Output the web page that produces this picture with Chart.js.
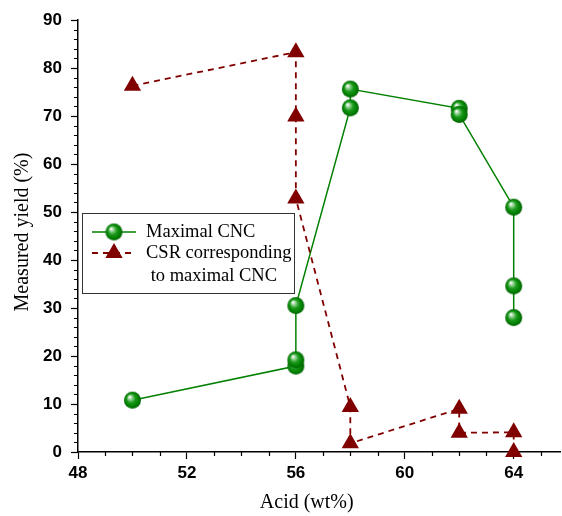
<!DOCTYPE html>
<html>
<head>
<meta charset="utf-8">
<script src="https://cdn.jsdelivr.net/npm/chart.js@4.4.1/dist/chart.umd.min.js"></script>
<style>
  html, body { margin: 0; padding: 0; background: #ffffff; }
  #wrap { width: 562px; height: 516px; }
</style>
</head>
<body>
<div id="wrap"><canvas id="c" width="562" height="516"></canvas></div>
<script>
// ---- data ----
const acidCNC  = [50, 56, 56, 56, 58, 58, 62, 62, 64, 64, 64];
const yieldCNC = [10.8, 17.9, 19.2, 30.5, 71.7, 75.6, 71.6, 70.3, 51.0, 34.6, 28.0];
const acidCSR  = [50, 56, 56, 56, 58, 58, 62, 62, 64, 64];
const yieldCSR = [76.3, 83.3, 69.9, 52.8, 9.4, 1.8, 9.0, 4.0, 4.1, 0.0];
const xTicks = [48, 52, 56, 60, 64];
const yTicks = [0, 10, 20, 30, 40, 50, 60, 70, 80, 90];
const labelCNC = 'Maximal CNC';
const labelCSR = ['CSR corresponding', ' to maximal CNC'];
const xTitle = 'Acid (wt%)';
const yTitle = 'Measured yield (%)';

const GREEN = '#008000';
const RED = '#800000';

// sphere marker image
function makeSphere(r) {
  const c = document.createElement('canvas');
  c.width = c.height = Math.ceil(r * 2 + 2);
  const g = c.getContext('2d');
  const cx = c.width / 2, cy = c.height / 2;
  const grad = g.createRadialGradient(cx - r * 0.35, cy - r * 0.4, r * 0.05, cx, cy, r);
  grad.addColorStop(0, '#ffffff');
  grad.addColorStop(0.22, '#8fd08f');
  grad.addColorStop(0.5, '#1a9a1a');
  grad.addColorStop(0.85, '#007a00');
  grad.addColorStop(1, '#005c00');
  g.fillStyle = grad;
  g.beginPath();
  g.arc(cx, cy, r, 0, Math.PI * 2);
  g.fill();
  return c;
}
const sphere = makeSphere(8.5);

const pts = (xs, ys) => xs.map((x, i) => ({ x: x, y: ys[i] }));

const tickFont = { family: "'Liberation Sans', Arial, sans-serif", size: 17, weight: 'bold' };
const titleFontCss = "20px 'Liberation Serif', 'Times New Roman', serif";

// minor ticks + axis titles plugin
const axisExtras = {
  id: 'axisExtras',
  afterDraw(chart) {
    const ctx = chart.ctx;
    const xs = chart.scales.x, ys = chart.scales.y;
    ctx.save();
    ctx.strokeStyle = '#000';
    ctx.lineWidth = 1.2;
    ctx.beginPath();
    for (let v = xs.min; v <= xs.max + 1e-9; v += 1) {
      if (xTicks.includes(v)) continue;
      const px = Math.round(xs.getPixelForValue(v)) + 0.5;
      ctx.moveTo(px, ys.bottom);
      ctx.lineTo(px, ys.bottom + 4);
    }
    for (let v = ys.min; v <= ys.max + 1e-9; v += 2) {
      if (yTicks.includes(v)) continue;
      const py = Math.round(ys.getPixelForValue(v)) + 0.5;
      ctx.moveTo(xs.left, py);
      ctx.lineTo(xs.left - 4, py);
    }
    ctx.stroke();
    // axis titles
    ctx.fillStyle = '#000';
    ctx.font = titleFontCss;
    ctx.textAlign = 'center';
    ctx.textBaseline = 'middle';
    ctx.fillText(xTitle, xs.getPixelForValue(56.4), 503);
    ctx.translate(23, (ys.top + ys.bottom) / 2 - 4);
    ctx.rotate(-Math.PI / 2);
    ctx.fillText(yTitle, 0, 0);
    ctx.restore();
  }
};

// legend plugin
const legendBox = {
  id: 'legendBox',
  afterDraw(chart) {
    const ctx = chart.ctx;
    const ds = chart.data.datasets;
    ctx.save();
    const bx = 82.5, by = 213.5, bw = 212, bh = 80;
    ctx.fillStyle = '#fff';
    ctx.fillRect(bx, by, bw, bh);
    ctx.strokeStyle = '#333';
    ctx.lineWidth = 1;
    ctx.strokeRect(bx, by, bw, bh);
    const y1 = 232, y2 = 253;
    ctx.strokeStyle = GREEN; ctx.lineWidth = 1.5;
    ctx.beginPath(); ctx.moveTo(92, y1); ctx.lineTo(136, y1); ctx.stroke();
    ctx.drawImage(sphere, 114 - sphere.width / 2, y1 - sphere.height / 2);
    ctx.strokeStyle = RED; ctx.lineWidth = 1.8; ctx.setLineDash([6, 5]);
    ctx.beginPath(); ctx.moveTo(92, y2); ctx.lineTo(136, y2); ctx.stroke();
    ctx.setLineDash([]);
    const r = 10;
    ctx.fillStyle = RED;
    ctx.beginPath();
    ctx.moveTo(114, y2 - r);
    ctx.lineTo(114 + r * Math.sin(Math.PI / 3), y2 + r / 2);
    ctx.lineTo(114 - r * Math.sin(Math.PI / 3), y2 + r / 2);
    ctx.closePath();
    ctx.fill();
    ctx.fillStyle = '#000';
    ctx.font = "18.5px 'Liberation Serif', 'Times New Roman', serif";
    ctx.textBaseline = 'middle';
    ctx.textAlign = 'left';
    ctx.fillText(ds[0].label, 146, y1);
    const l2 = ds[1].label;
    ctx.fillText(l2[0], 146, y2);
    ctx.fillText(l2[1], 146, y2 + 23);
    ctx.restore();
  }
};

new Chart(document.getElementById('c'), {
  type: 'scatter',
  data: {
    datasets: [
      {
        label: labelCNC,
        data: pts(acidCNC, yieldCNC),
        showLine: true,
        borderColor: GREEN,
        borderWidth: 1.5,
        backgroundColor: GREEN,
        pointStyle: sphere,
        pointRadius: 8.5,
        pointHoverRadius: 8.5,
        tension: 0,
        clip: false,
        order: 2
      },
      {
        label: labelCSR,
        data: pts(acidCSR, yieldCSR),
        showLine: true,
        borderColor: RED,
        borderWidth: 1.8,
        borderDash: [6, 5],
        backgroundColor: RED,
        pointBackgroundColor: RED,
        pointBorderColor: RED,
        pointBorderWidth: 0,
        pointStyle: 'triangle',
        pointRadius: 10,
        pointHoverRadius: 10,
        tension: 0,
        clip: false,
        order: 1
      }
    ]
  },
  options: {
    responsive: false,
    animation: false,
    events: [],
    layout: { autoPadding: false, padding: { left: 0, right: 2, top: 20, bottom: 0 } },
    plugins: { legend: { display: false }, tooltip: { enabled: false } },
    scales: {
      x: {
        type: 'linear',
        min: 48,
        max: 65.7,
        afterBuildTicks(scale) { scale.ticks = xTicks.map(v => ({ value: v })); },
        afterFit(scale) { scale.height = 64; },
        grid: { drawOnChartArea: false, drawTicks: true, tickLength: 7, tickColor: '#000', tickWidth: 1.2 },
        border: { display: true, color: '#000', width: 1.5 },
        ticks: { color: '#000', font: tickFont, padding: 4, maxRotation: 0, autoSkip: false },
        title: { display: false, text: xTitle }
      },
      y: {
        type: 'linear',
        min: 0,
        max: 90,
        afterBuildTicks(scale) { scale.ticks = yTicks.map(v => ({ value: v })); },
        afterFit(scale) { scale.width = 78; },
        grid: { drawOnChartArea: false, drawTicks: true, tickLength: 7, tickColor: '#000', tickWidth: 1.2 },
        border: { display: true, color: '#000', width: 1.5 },
        ticks: { color: '#000', font: tickFont, padding: 9, autoSkip: false },
        title: { display: false, text: yTitle }
      }
    }
  },
  plugins: [axisExtras, legendBox]
});
</script>
</body>
</html>
